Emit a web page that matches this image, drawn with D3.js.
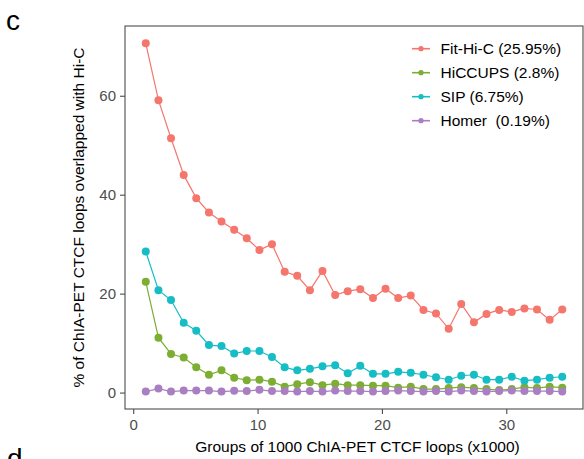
<!DOCTYPE html>
<html>
<head>
<meta charset="utf-8">
<script src="https://cdn.jsdelivr.net/npm/d3@7/dist/d3.min.js"></script>
<style>
  body { margin: 0; background: #fff; }
  svg { display: block; font-family: "Liberation Sans", Arial, Helvetica, sans-serif; }
</style>
</head>
<body>
<svg id="chart" width="584" height="459"></svg>
<script>
// ---- data ----
const groups = [1.01, 2.03, 3.04, 4.06, 5.07, 6.09, 7.10, 8.12, 9.13, 10.15, 11.16, 12.18, 13.19, 14.21, 15.22, 16.24, 17.25,
  18.26, 19.28, 20.29, 21.31, 22.32, 23.34, 24.35, 25.37, 26.38, 27.40, 28.41, 29.43, 30.44, 31.46, 32.47, 33.49, 34.50];
const seriesNames = ["Fit-Hi-C (25.95%)", "HiCCUPS (2.8%)", "SIP (6.75%)", "Homer  (0.19%)"];
const fitHiC = [70.6, 59.1, 51.4, 44.0, 39.3, 36.4, 34.6, 32.9, 31.2, 28.8, 30.0, 24.4, 23.6, 20.7, 24.6, 19.7, 20.5,
  20.9, 19.1, 21.0, 19.1, 19.6, 16.7, 16.0, 12.9, 17.9, 14.2, 15.9, 16.7, 16.3, 17.0, 16.8, 14.7, 16.8];
const hiccups = [22.4, 11.1, 7.8, 7.1, 5.1, 3.6, 4.5, 3.0, 2.5, 2.6, 2.2, 1.2, 1.7, 2.1, 1.5, 1.8, 1.5,
  1.5, 1.4, 1.4, 1.0, 1.2, 0.7, 0.7, 0.9, 1.1, 0.9, 0.7, 0.5, 0.7, 1.1, 0.9, 1.2, 1.0];
const sip = [28.5, 20.7, 18.7, 14.1, 12.5, 9.6, 9.4, 7.9, 8.4, 8.4, 7.2, 5.1, 4.5, 4.8, 5.3, 5.5, 3.9,
  5.4, 3.8, 3.8, 4.2, 4.0, 3.6, 3.1, 2.6, 3.4, 3.6, 2.6, 2.6, 3.2, 2.4, 2.6, 3.0, 3.2];
const homer = [0.2, 0.8, 0.2, 0.4, 0.4, 0.4, 0.2, 0.35, 0.3, 0.55, 0.3, 0.3, 0.2, 0.3, 0.2, 0.4, 0.3,
  0.3, 0.2, 0.3, 0.4, 0.3, 0.2, 0.3, 0.2, 0.4, 0.3, 0.2, 0.3, 0.4, 0.3, 0.3, 0.3, 0.2];
const colors = ["#F4766D", "#7CAE32", "#17BDC5", "#A97FC2"];
const xTicks = [0, 10, 20, 30];
const yTicks = [0, 20, 40, 60];
const xTitle = "Groups of 1000 ChIA-PET CTCF loops (x1000)";
const yTitle = "% of ChIA-PET CTCF loops overlapped with Hi-C";

const allSeries = [fitHiC, hiccups, sip, homer];

// ---- layout ----
const svg = d3.select("#chart");
const panel = { left: 125, right: 583, top: 26, bottom: 409 };

const x = d3.scaleLinear().domain([-0.66, 36.17]).range([panel.left, panel.right]);
const y = d3.scaleLinear().domain([-3.32, 74.1]).range([panel.bottom, panel.top]);

// panel border
svg.append("rect")
  .attr("x", panel.left).attr("y", panel.top)
  .attr("width", panel.right - panel.left).attr("height", panel.bottom - panel.top)
  .attr("fill", "none").attr("stroke", "#4d4d4d").attr("stroke-width", 1.1);

// axes
const xAxis = svg.append("g").attr("transform", `translate(0,${panel.bottom})`)
  .call(d3.axisBottom(x).tickValues(xTicks).tickSize(5).tickPadding(5).tickFormat(d3.format("d")));
const yAxis = svg.append("g").attr("transform", `translate(${panel.left},0)`)
  .call(d3.axisLeft(y).tickValues(yTicks).tickSize(5).tickPadding(4).tickFormat(d3.format("d")));
[xAxis, yAxis].forEach(g => {
  g.select(".domain").remove();
  g.selectAll(".tick line").attr("stroke", "#4d4d4d").attr("stroke-width", 1.1);
  g.selectAll(".tick text").attr("fill", "#4d4d4d").style("font-size", "15px")
    .style("font-family", "'Liberation Sans', Arial, sans-serif");
});

// lines and points
const line = d3.line().x((d, i) => x(groups[i])).y(d => y(d));
allSeries.forEach((vals, si) => {
  const g = svg.append("g");
  g.append("path").datum(vals).attr("d", line)
    .attr("fill", "none").attr("stroke", colors[si]).attr("stroke-width", 1.2);
  g.selectAll("circle").data(vals).join("circle")
    .attr("cx", (d, i) => x(groups[i])).attr("cy", d => y(d)).attr("r", 4)
    .attr("fill", colors[si]);
});

// legend
const leg = svg.append("g");
seriesNames.forEach((name, i) => {
  const cy = 48.7 + 24 * i;
  leg.append("line").attr("x1", 412).attr("x2", 430).attr("y1", cy).attr("y2", cy)
    .attr("stroke", colors[i]).attr("stroke-width", 1.6);
  leg.append("circle").attr("cx", 421).attr("cy", cy).attr("r", 2.6).attr("fill", colors[i]);
  leg.append("text").attr("x", 440.5).attr("y", cy).attr("dy", "0.36em")
    .attr("fill", "#000").style("font-size", "15.5px").style("white-space", "pre")
    .attr("xml:space", "preserve").text(name);
});

// axis titles
svg.append("text").attr("x", 357.5).attr("y", 452).attr("text-anchor", "middle")
  .style("font-size", "15.5px").attr("fill", "#000").text(xTitle);
svg.append("text").attr("transform", `translate(84,${(panel.top + panel.bottom) / 2}) rotate(-90)`)
  .attr("text-anchor", "middle").style("font-size", "15.5px").attr("fill", "#000").text(yTitle);

// panel labels
svg.append("text").attr("x", 6).attr("y", 30).style("font-size", "28px").attr("fill", "#000").text("c");
svg.append("text").attr("x", 7).attr("y", 468).style("font-size", "28px").attr("fill", "#000").text("d");
</script>
</body>
</html>
